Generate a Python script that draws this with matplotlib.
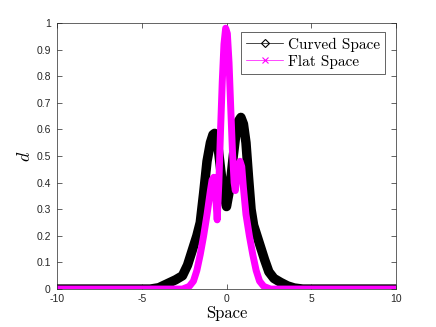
import matplotlib
matplotlib.use('Agg')
import matplotlib.pyplot as plt
from matplotlib.lines import Line2D

# curved space (black)
x_curved = [-10, -4.5, -4.0, -3.5, -3.0, -2.6, -2.3, -2.0, -1.75, -1.55, -1.35, -1.15,
            -0.95, -0.8, -0.7, -0.55, -0.4, -0.2, 0.0, 0.2, 0.4, 0.55, 0.7, 0.85,
            1.0, 1.15, 1.3, 1.45, 1.6, 1.8, 2.0, 2.25, 2.5, 2.8, 3.2, 3.6, 4.0, 4.5, 10]
y_curved = [0, 0, 0.005, 0.02, 0.035, 0.05, 0.09, 0.15, 0.2, 0.25, 0.36, 0.48,
            0.55, 0.58, 0.585, 0.56, 0.48, 0.37, 0.31, 0.38, 0.5, 0.58, 0.63, 0.645,
            0.62, 0.55, 0.42, 0.3, 0.24, 0.2, 0.16, 0.11, 0.065, 0.04, 0.025, 0.012, 0.004, 0, 0]

# flat space (magenta)
x_flat = [-10, -2.6, -2.2, -1.95, -1.75, -1.55, -1.35, -1.15, -0.95, -0.85, -0.75,
          -0.65, -0.55, -0.45, -0.35, -0.25, -0.15, -0.05, 0.05, 0.15, 0.25, 0.35,
          0.45, 0.52, 0.65, 0.8, 0.9, 1.0, 1.15, 1.35, 1.55, 1.75, 1.95, 2.2, 2.6, 10]
y_flat = [0, 0, 0.01, 0.03, 0.07, 0.13, 0.2, 0.28, 0.37, 0.41, 0.42,
          0.36, 0.26, 0.4, 0.6, 0.78, 0.92, 0.98, 0.96, 0.85, 0.68, 0.52,
          0.4, 0.37, 0.44, 0.48, 0.46, 0.38, 0.28, 0.2, 0.13, 0.07, 0.03, 0.01, 0, 0]

labels = ['Curved Space', 'Flat Space']
x_ticks = [-10, -5, 0, 5, 10]
x_ticklabels = ['-10', '-5', '0', '5', '10']
y_ticks = [0, 0.1, 0.2, 0.3, 0.4, 0.5, 0.6, 0.7, 0.8, 0.9, 1]
y_ticklabels = ['0', '0.1', '0.2', '0.3', '0.4', '0.5', '0.6', '0.7', '0.8', '0.9', '1']
magenta = (1.0, 0.0, 1.0)

plt.rcParams['mathtext.fontset'] = 'cm'
plt.rcParams['font.family'] = 'Liberation Sans'

fig = plt.figure(figsize=(4.36, 3.27), dpi=100)
ax = fig.add_axes([0.131, 0.116, 0.777, 0.814])

ax.plot(x_curved, y_curved, color='black', lw=6.8, solid_joinstyle='round', solid_capstyle='round')
ax.plot(x_flat, y_flat, color=magenta, lw=5, solid_joinstyle='round', solid_capstyle='round')

ax.set_xlim(-10, 10)
ax.set_ylim(0, 1)
ax.set_xticks(x_ticks)
ax.set_xticklabels(x_ticklabels)
ax.set_yticks(y_ticks)
ax.set_yticklabels(y_ticklabels)
ax.tick_params(direction='in', top=True, right=True, length=3.5, width=0.5,
               labelsize=7.5, colors='0.15')
ax.tick_params(axis='x', pad=3.5)
ax.tick_params(axis='y', pad=4.5)
for s in ax.spines.values():
    s.set_linewidth(0.5)
    s.set_color('0.15')

ax.set_xlabel('Space', family='cmr10', fontsize=12, labelpad=1)
ax.set_ylabel('$d$', fontsize=13, labelpad=2)

handles = [
    Line2D([], [], color='black', lw=0.5, marker='D', ms=4, mfc='none', mew=0.8),
    Line2D([], [], color=magenta, lw=0.5, marker='x', ms=4, mew=0.8),
]
leg = ax.legend(handles, labels, loc='upper right', bbox_to_anchor=(0.968, 0.966),
                borderaxespad=0, prop={'family': 'cmr10', 'size': 11}, fancybox=False,
                handlelength=2.4, handletextpad=0.3, borderpad=0.35, labelspacing=0.2,
                framealpha=1)
leg.get_frame().set_edgecolor('0.15')
leg.get_frame().set_linewidth(0.5)

fig.savefig('out.png', dpi=100)
